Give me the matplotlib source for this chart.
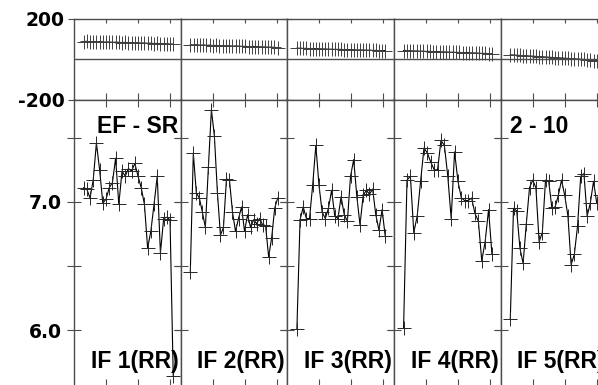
import numpy as np
import matplotlib
matplotlib.use("Agg")
import matplotlib.pyplot as plt
import matplotlib.transforms as mtransforms

plt.rcParams['font.family'] = ['Liberation Sans', 'DejaVu Sans']
plt.rcParams['font.weight'] = 'bold'
plt.rcParams['axes.unicode_minus'] = False

# panel labels
bottom_labels = ["IF 1(RR)", "IF 2(RR)", "IF 3(RR)", "IF 4(RR)", "IF 5(RR)"]

# upper strip values (one series per panel)
top_vals = [
    [88, 89, 87, 88, 86, 87, 86, 85, 86, 84, 85, 84, 83, 84, 82, 83, 81, 82, 80, 81, 79, 80, 78, 79, 77, 78, 76, 76, 75],
    [72, 71, 72, 70, 71, 69, 70, 68, 69, 67, 68, 66, 67, 65, 66, 65, 64, 64, 63, 63, 62, 62, 61, 61, 60, 60, 59, 58],
    [55, 55, 54, 54, 53, 53, 52, 52, 51, 51, 50, 50, 49, 49, 49, 48, 48, 47, 47, 46, 46, 46, 45, 45, 44, 44, 43, 43, 43],
    [43, 42, 42, 41, 41, 40, 40, 39, 39, 38, 38, 37, 36, 36, 35, 35, 34, 34, 33, 33, 32, 31, 31, 30, 29, 29, 28, 27],
    [22, 21, 20, 19, 18, 17, 16, 15, 14, 13, 12, 11, 10, 9, 8, 7, 6, 5, 4, 3, 2, 1, 0, -1, -3, -5, -7, -9, -11],
]

# lower panel values
low_vals = [
    [7.11, 7.10, 7.03, 7.17, 7.46, 7.25, 6.99, 7.02, 7.11, 7.15, 7.34, 6.98, 7.24, 7.20, 7.26,
     7.24, 7.30, 7.20, 7.11, 6.98, 6.64, 6.77, 6.98, 7.20, 6.60, 6.87, 6.88, 6.86, 5.64],
    [6.45, 7.38, 7.07, 7.03, 6.92, 6.80, 7.27, 7.72, 7.51, 7.07, 6.74, 6.80, 7.18, 7.17, 6.92,
     6.77, 6.87, 6.96, 6.77, 6.90, 6.80, 6.86, 6.83, 6.87, 6.82, 6.81, 6.57, 6.72, 6.95, 7.03],
    [6.01, 6.86, 6.96, 6.87, 6.87, 7.13, 7.44, 7.13, 6.92, 6.87, 6.95, 7.09, 6.89, 6.87, 7.04,
     6.90, 6.85, 7.20, 7.33, 7.04, 6.82, 7.05, 7.09, 7.06, 7.10, 6.90, 6.78, 6.94, 6.73],
    [6.02, 7.17, 7.20, 6.76, 6.89, 7.16, 7.42, 7.38, 7.31, 7.25, 7.25, 7.48, 7.44, 7.20, 6.87,
     7.39, 7.16, 7.03, 7.01, 7.01, 7.03, 6.91, 6.85, 6.54, 6.69, 6.94, 6.59],
    [6.09, 6.95, 6.93, 6.64, 6.52, 6.83, 7.11, 7.17, 7.11, 6.69, 6.76, 7.17, 7.16, 6.95, 6.96,
     7.05, 7.17, 7.05, 6.89, 6.51, 6.59, 6.81, 7.20, 7.22, 6.89, 6.99, 7.16, 6.99, 7.05],
]
x_spans = [(3, 31), (3, 30.3), (3, 30.6), (3, 30.6), (3, 31)]

W, H = 598, 385
fig = plt.figure(figsize=(W / 100, H / 100), dpi=100)

def px_box(x0, y_top, w, h):
    return [x0 / W, (H - y_top - h) / H, w / W, h / H]

lefts = [74, 180.7, 287.3, 394, 500.7]
pw = 106.6
frame_c = '0.3'
tick_font = dict(family='DejaVu Sans', weight='bold', size=13.5)

for i in range(5):
    xs = np.linspace(x_spans[i][0], x_spans[i][1], len(low_vals[i]))
    xt = np.linspace(x_spans[i][0], x_spans[i][1], len(top_vals[i]))

    # upper strip
    at = fig.add_axes(px_box(lefts[i], 19, pw, 80.5))
    at.plot(xt, top_vals[i], color='k', lw=0.8, marker='+', ms=10, mew=0.7, mec='0.25')
    at.axhline(0, color=frame_c, lw=1.0)
    at.set_xlim(0, 33.3)
    at.set_ylim(-200, 200)
    at.set_xticks([10, 20, 30])
    at.set_xticklabels([])
    at.set_yticks([-200, 200])
    at.tick_params(axis='x', which='both', top=True, bottom=False, direction='in', length=3,
                   color=frame_c)
    at.tick_params(axis='y', left=True, right=False, direction='inout', length=8, color=frame_c,
                   pad=3)
    if i == 0:
        at.set_yticklabels(['-200', '200'], fontdict=tick_font)
    else:
        at.set_yticklabels([])
    for s in at.spines.values():
        s.set_color(frame_c)
        s.set_linewidth(1.0)

    # lower panel
    ax = fig.add_axes(px_box(lefts[i], 99.5, pw, 290.5))
    ax.plot(xs, low_vals[i], color='k', lw=0.8, marker='+', ms=10, mew=0.7, mec='0.15')
    ax.set_xlim(0, 33.3)
    ax.set_ylim(5.533, 7.798)
    ax.set_xticks([10, 20, 30])
    ax.set_xticklabels([])
    ax.set_yticks([6.0, 6.5, 7.0, 7.5])
    ax.tick_params(axis='x', top=True, bottom=False, direction='inout', length=10, color=frame_c)
    ax.tick_params(axis='y', left=True, right=True, direction='inout', length=10, color=frame_c,
                   pad=4)
    if i == 0:
        ax.set_yticklabels(['6.0', '', '7.0', ''], fontdict=tick_font)
    else:
        ax.set_yticklabels([])
    for s in ax.spines.values():
        s.set_color(frame_c)
        s.set_linewidth(1.0)

    # bottom ticks pointing up from the (cropped) bottom edge
    axb = ax.secondary_xaxis('bottom')
    axb.set_xticks([10, 20, 30])
    axb.set_xticklabels([])
    axb.tick_params(direction='in', length=8, color=frame_c)

    tr = mtransforms.blended_transform_factory(ax.transAxes, fig.transFigure)
    ax.text(0.978, (H - 368) / H, bottom_labels[i], transform=tr, ha='right', va='baseline',
            fontsize=16.5, fontweight='bold', clip_on=False)
    if i == 0:
        ax.text(0.978, (H - 133) / H, "EF - SR", transform=tr, ha='right', va='baseline',
                fontsize=16.5, fontweight='bold')
    if i == 4:
        ax.text(0.087, (H - 133) / H, "2 - 10", transform=tr, ha='left', va='baseline',
                fontsize=16.5, fontweight='bold')

fig.savefig("out.png", dpi=100)
